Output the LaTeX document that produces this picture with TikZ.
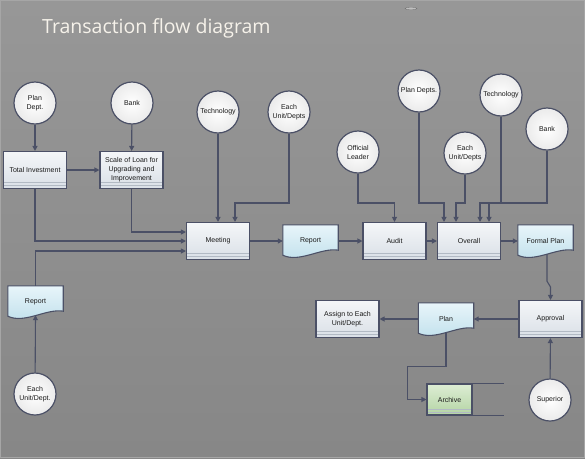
\documentclass[tikz,border=0pt]{standalone}
\usepackage{fontspec}
\setmainfont{Liberation Sans}
\newfontfamily\titlefont{Open Sans}
\usetikzlibrary{arrows.meta,calc,positioning}
\definecolor{linegray}{HTML}{4B5066}
\definecolor{bggray}{HTML}{8E8E8E}
\definecolor{boxtop}{HTML}{F4F6F8}
\definecolor{boxbot}{HTML}{DAE0E7}
\definecolor{bandgray}{HTML}{B2BAC4}
\definecolor{doctop}{HTML}{E8F5FA}
\definecolor{docbot}{HTML}{BEDFEB}
\definecolor{arctop}{HTML}{DDEDD4}
\definecolor{arcbot}{HTML}{B4D4A4}
\definecolor{titlewhite}{HTML}{F6F2EA}
\pgfdeclarelayer{back}
\pgfdeclarelayer{shapes}
\pgfsetlayers{back,shapes,main}
\newcommand{\docbody}[1]{%
  \begin{pgfonlayer}{shapes}
  \draw[docline] (#1.north west) -- (#1.north east) -- ([yshift=7pt]#1.south east)
    .. controls ($(#1.south west)!0.7!(#1.south east)+(0,-10)$) and ($(#1.south west)!0.3!(#1.south east)+(0,6)$) .. ([yshift=2pt]#1.south west) -- cycle;
  \end{pgfonlayer}}

\begin{document}
\begin{tikzpicture}[x=1pt,y=-1pt,
  every node/.style={font=\fontsize{7}{9}\selectfont, text=black!90, align=center},
  ball/.style={circle, minimum size=42, inner sep=0, draw=linegray, line width=1.2pt, inner color=white, outer color=black!8},
  box/.style={rectangle, minimum width=63, minimum height=37, inner sep=0, draw=linegray, line width=1.1pt, top color=boxtop, bottom color=boxbot,
    path picture={\draw[bandgray, line width=0.6pt] ([yshift=6pt]path picture bounding box.south west) -- ([yshift=6pt]path picture bounding box.south east)
      ([yshift=3pt]path picture bounding box.south west) -- ([yshift=3pt]path picture bounding box.south east);}},
  doc/.style={rectangle, minimum width=55, minimum height=32, inner sep=0},
  docline/.style={draw=linegray, line width=1.1pt, top color=doctop, bottom color=docbot},
  store/.style={box, minimum width=45, minimum height=31, top color=arctop, bottom color=arcbot},
  flow/.style={draw=linegray, line width=1.1pt, -{Triangle[length=5pt,width=5pt]}},
  plain/.style={draw=linegray, line width=1.1pt}]
%\draw [help lines] (0,0) grid (585,458);

\useasboundingbox (0,0) rectangle (585,458);
\begin{pgfonlayer}{back}
\shade[top color=bggray!92!white, bottom color=bggray!95!black] (0,0) rectangle (585,458);
\draw[black!35, line width=0.8pt] (0.5,0.5) rectangle (584.5,457.5);
\draw[black!55, fill=black!25] (411,8.5) ellipse (6 and 1.3);
\end{pgfonlayer}

\node[anchor=west, inner sep=0, font=\titlefont\fontsize{19.5}{22}\selectfont, text=titlewhite] (title) at (42,28) {Transaction flow diagram};

% Circles
\node[ball] (pdept)  at (35,103)  {Plan\\Dept.};
\node[ball] (bank)   at (132,103) {Bank};
\node[ball] (tech)   at (218,112) {Technology};
\node[ball] (unit)   at (289,112) {Each\\Unit/Depts};
\node[ball] (lead)   at (358,152) {Official\\Leader};
\node[ball] (pdepts) at (419,91)  {Plan Depts.};
\node[ball] (units)  at (465,153) {Each\\Unit/Depts};
\node[ball] (techr)  at (501,95)  {Technology};
\node[ball] (bankr)  at (547,129) {Bank};
\node[ball] (unitl)  at (35,394)  {Each\\Unit/Dept.};
\node[ball] (sup)    at (550,400) {Superior};

% Boxes
\node[box] (tinv)   at (35,170)     {Total Investment};
\node[box] (loan)   at (131.5,170)  {Scale of Loan for\\Upgrading and\\Improvement};
\node[box] (meet)   at (218,241)    {Meeting};
\node[box] (audit)  at (394.5,241)  {Audit};
\node[box] (ovr)    at (469,241)    {Overall};
\node[box] (assign) at (347.5,319)  {Assign to Each\\Unit/Dept.};
\node[box] (appr)   at (550.5,319)  {Approval};
\node[store] (arch) at (449.5,399.5) {Archive};
\draw[plain] (arch.north east) -- ++(31,0);
\draw[plain] (arch.south east) -- ++(31,0);

% Documents
\node[doc] (rep)   at (310.5,241) {Report};
\node[doc] (fplan) at (545.5,241) {Formal Plan};
\node[doc] (plan)  at (446,319)   {Plan};
\node[doc] (repl)  at (35.5,302)  {Report};
\docbody{rep}
\docbody{fplan}
\docbody{plan}
\docbody{repl}

% Edges
\draw[flow] (pdept) -- (tinv);
\draw[flow] (bank) -- (loan);
\draw[flow] (tinv) -- (loan);
\draw[flow] (loan.south) |- ([yshift=9pt]meet.west);
\draw[flow] (tinv.south) |- (meet.west);
\draw[flow] (repl.north) |- ([yshift=-10pt]meet.west);
\draw[flow] (tech) -- (meet);
\draw[flow] (unit.south) |- ([xshift=17pt,yshift=19pt]meet.north) -- ([xshift=17pt]meet.north);
\draw[flow] (meet) -- (rep);
\draw[flow] (rep) -- (audit);
\draw[flow] (lead.south) |- ([yshift=19pt]audit.north) -- (audit.north);
\draw[flow] (audit) -- (ovr);
\draw[flow] (pdepts.south) |- ([xshift=-25pt,yshift=19pt]ovr.north) -- ([xshift=-25pt]ovr.north);
\draw[flow] (units.south) |- ([xshift=-13pt,yshift=19pt]ovr.north) -- ([xshift=-13pt]ovr.north);
\draw[flow] (techr.south) |- ([xshift=11pt,yshift=19pt]ovr.north) -- ([xshift=11pt]ovr.north);
\draw[flow] (bankr.south) |- ([xshift=20pt,yshift=19pt]ovr.north) -- ([xshift=20pt]ovr.north);
\draw[flow] (ovr) -- (fplan);
\draw[flow] ([xshift=1.5pt,yshift=3pt]fplan.south) -- ++(0,27) -- ([yshift=13pt]appr.north) -- (appr.north);
\draw[flow] (appr) -- (plan);
\draw[flow] (plan) -- (assign);
\draw[flow] ([yshift=3pt]plan.south) -- ++(0,34) -| ([xshift=-19pt]arch.west) -- (arch.west);
\draw[flow] (sup) -- (appr);
\draw[flow] (unitl) -- ([yshift=3pt]repl.south);
\end{tikzpicture}
\end{document}
